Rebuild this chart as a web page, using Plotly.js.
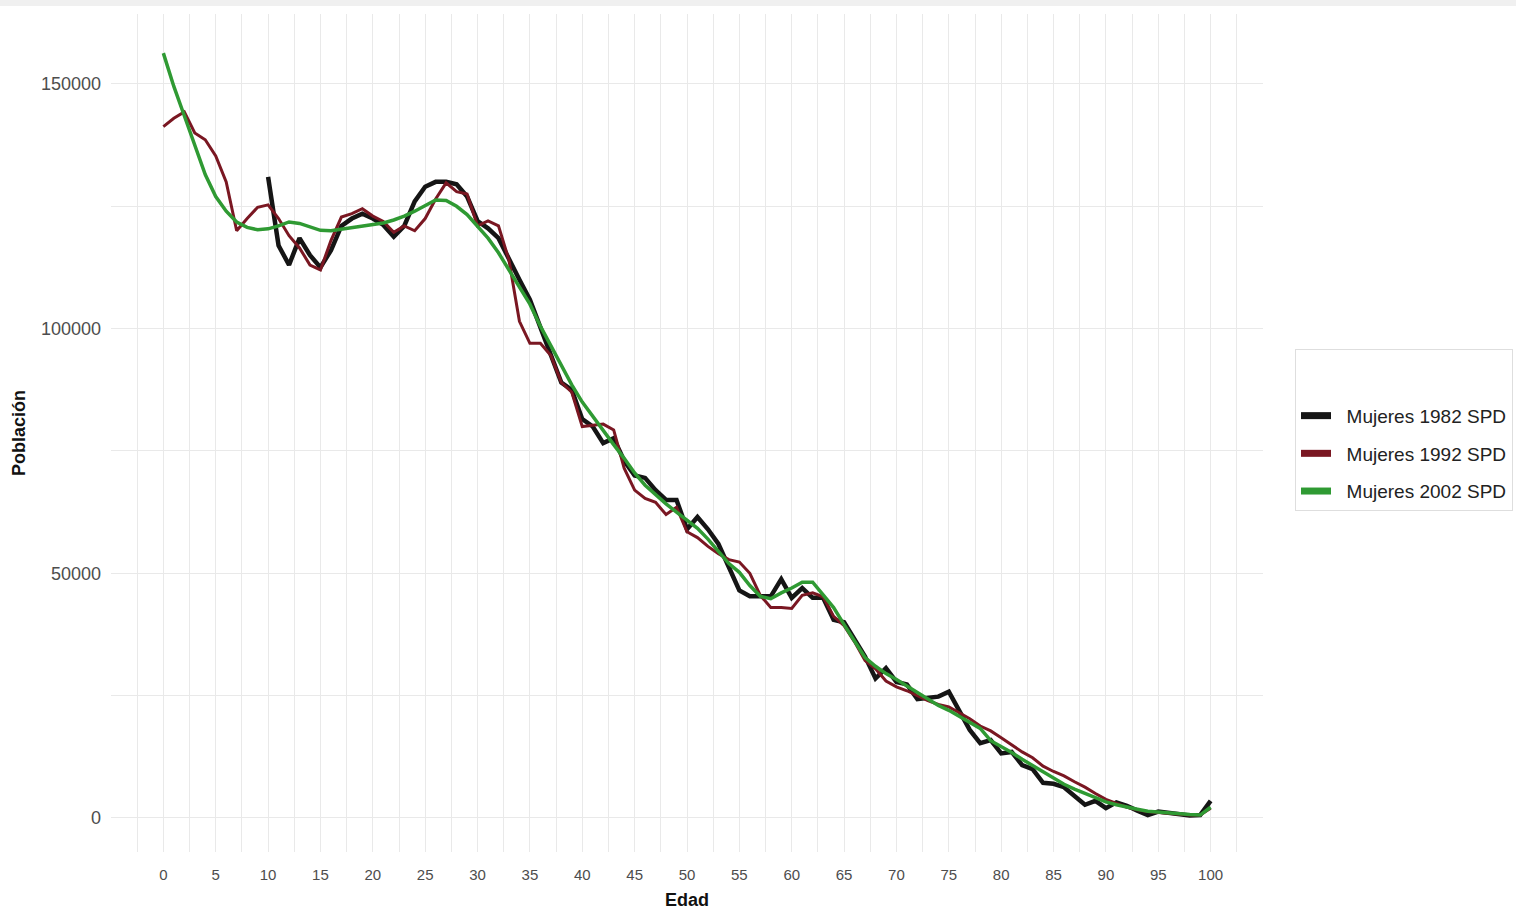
<!DOCTYPE html>
<html>
<head>
<meta charset="utf-8">
<script src="https://cdn.plot.ly/plotly-3.0.1.min.js"></script>
<style>
html,body{margin:0;padding:0;background:#ffffff;}
#chart{width:1516px;height:915px;}
</style>
</head>
<body>
<div id="chart"></div>
<script>
// Edad (age) values
const ages1982 = [10,11,12,13,14,15,16,17,18,19,20,21,22,23,24,25,26,27,28,29,30,31,32,33,34,35,36,37,38,39,40,41,42,43,44,45,46,47,48,49,50,51,52,53,54,55,56,57,58,59,60,61,62,63,64,65,66,67,68,69,70,71,72,73,74,75,76,77,78,79,80,81,82,83,84,85,86,87,88,89,90,91,92,93,94,95,96,97,98,99,100];
const mujeres1982 = [131000,117000,113000,118500,115000,112500,116000,121000,122500,123500,122500,121200,118800,121000,126000,129000,130000,130000,129500,127000,122000,120500,118500,114000,110000,105900,100400,95000,89000,87500,81500,80000,76600,77600,73000,70000,69500,67000,65000,65000,59000,61500,59000,56000,51000,46500,45300,45200,45300,48800,45000,47000,45000,45000,40500,40000,36500,33000,28500,30600,27800,27300,24300,24500,24800,25800,22000,18000,15300,15900,13200,13500,10800,10000,7200,7000,6300,4500,2700,3500,2000,3200,2500,1500,600,1300,1000,600,500,600,3500];

const ages1992 = [0,1,2,3,4,5,6,7,8,9,10,11,12,13,14,15,16,17,18,19,20,21,22,23,24,25,26,27,28,29,30,31,32,33,34,35,36,37,38,39,40,41,42,43,44,45,46,47,48,49,50,51,52,53,54,55,56,57,58,59,60,61,62,63,64,65,66,67,68,69,70,71,72,73,74,75,76,77,78,79,80,81,82,83,84,85,86,87,88,89,90,91,92,93,94,95,96,97,98,99,100];
const mujeres1992 = [141300,143000,144300,140000,138600,135300,130000,120000,122500,124800,125300,122500,119000,116500,113000,112000,118000,122800,123500,124500,123000,121900,119700,121000,120000,122500,126500,129800,128000,127500,121000,122000,121000,114000,101500,97000,97000,94500,89000,87000,80000,80300,80500,79300,71500,67000,65300,64500,62000,63500,58500,57300,55500,54000,52800,52300,50000,45500,43000,43000,42800,45500,46000,45200,41200,39300,36000,32200,30500,28000,26800,26000,25000,24000,23200,22700,21500,20300,18800,17800,16400,14900,13500,12300,10600,9500,8600,7400,6300,5000,3800,3000,2200,1700,1300,1100,900,700,600,600,2000];

const ages2002 = [0,1,2,3,4,5,6,7,8,9,10,11,12,13,14,15,16,17,18,19,20,21,22,23,24,25,26,27,28,29,30,31,32,33,34,35,36,37,38,39,40,41,42,43,44,45,46,47,48,49,50,51,52,53,54,55,56,57,58,59,60,61,62,63,64,65,66,67,68,69,70,71,72,73,74,75,76,77,78,79,80,81,82,83,84,85,86,87,88,89,90,91,92,93,94,95,96,97,98,99,100];
const mujeres2002 = [156300,149500,143500,137500,131500,127000,124000,121800,120700,120200,120400,121000,121800,121500,120800,120100,120000,120300,120700,121000,121300,121600,122200,123000,124000,125200,126300,126200,125000,123300,121000,118500,115500,112000,108500,105000,100500,96500,92500,88500,85000,82000,79300,76300,73500,70500,68000,66000,64200,62500,60800,59200,57000,54500,52000,50200,47500,45300,44800,46000,47000,48200,48200,45600,43000,39500,36000,32800,31000,29500,28300,27000,25800,24300,23000,22000,20800,19600,18300,15800,14700,13400,12000,10700,9300,8000,6900,5900,5000,4100,3300,2700,2200,1800,1400,1200,1000,900,700,600,2200];

const seriesNames = ['Mujeres 1982 SPD','Mujeres 1992 SPD','Mujeres 2002 SPD'];
const seriesColors = ['#151515','#7a1722','#2f9a33'];
const xTickVals = [0,5,10,15,20,25,30,35,40,45,50,55,60,65,70,75,80,85,90,95,100];
const yTickVals = [0,50000,100000,150000];

const xs = [ages1982, ages1992, ages2002];
const ys = [mujeres1982, mujeres1992, mujeres2002];
const widths = [4.5, 3, 3.5];

const traces = [];
for (let i = 0; i < 3; i++) {
  traces.push({
    type:'scatter', mode:'lines', x: xs[i], y: ys[i], name: seriesNames[i],
    line:{color: seriesColors[i], width: widths[i]}, showlegend:false, hoverinfo:'x+y'
  });
}
// legend swatches
for (let i = 0; i < 3; i++) {
  traces.push({
    type:'scatter', mode:'lines', x:[null], y:[null], name: '&nbsp;&nbsp;' + seriesNames[i],
    line:{color: seriesColors[i], width: 7}, showlegend:true, legendgroup:'g'+i
  });
}

const gridCol = '#e9e9e9';
const layout = {
  width:1516, height:915,
  paper_bgcolor:'#ffffff', plot_bgcolor:'#ffffff',
  margin:{l:111, r:253, t:14, b:63, autoexpand:false},
  font:{family:'"Liberation Sans", Arial, sans-serif', color:'#222'},
  xaxis:{
    range:[-5,105], tickmode:'array', tickvals:xTickVals,
    ticktext: xTickVals.map(String),
    showgrid:true, gridcolor:gridCol, gridwidth:1, zeroline:false, showline:false,
    ticks:'', ticklabelstandoff:12,
    tickfont:{size:15, color:'#4d4d4d'},
    minor:{tickmode:'linear', tick0:0, dtick:2.5, showgrid:true, gridcolor:gridCol, gridwidth:1},
    title:{text:'<b>Edad</b>', font:{size:18, color:'#111'}, standoff:11}
  },
  yaxis:{
    range:[-6950,164300], tickmode:'array', tickvals:yTickVals,
    ticktext: yTickVals.map(String),
    showgrid:true, gridcolor:gridCol, gridwidth:1, zeroline:false, showline:false,
    ticks:'', ticklabelstandoff:9,
    tickfont:{size:18, color:'#4d4d4d'},
    minor:{tickmode:'linear', tick0:0, dtick:25000, showgrid:true, gridcolor:gridCol, gridwidth:1},
    title:{text:'<b>Población</b>', font:{size:18, color:'#111'}, standoff:10}
  },
  legend:{
    x:1.0278, xanchor:'left', y:0.5036, yanchor:'middle',
    bgcolor:'#ffffff', bordercolor:'#dedede', borderwidth:1,
    font:{size:19, color:'#222'},
    tracegroupgap:10, itemwidth:30,
    title:{text:'&nbsp;<br>&nbsp;', font:{size:18}}
  },
  shapes:[
    {type:'rect', xref:'paper', yref:'paper', x0:-0.2, x1:1.3, y0:1.00955, y1:1.02, fillcolor:'#f0f0f0', line:{width:0}, layer:'below'}
  ]
};

Plotly.newPlot('chart', traces, layout, {displayModeBar:false, staticPlot:true});
</script>
</body>
</html>
